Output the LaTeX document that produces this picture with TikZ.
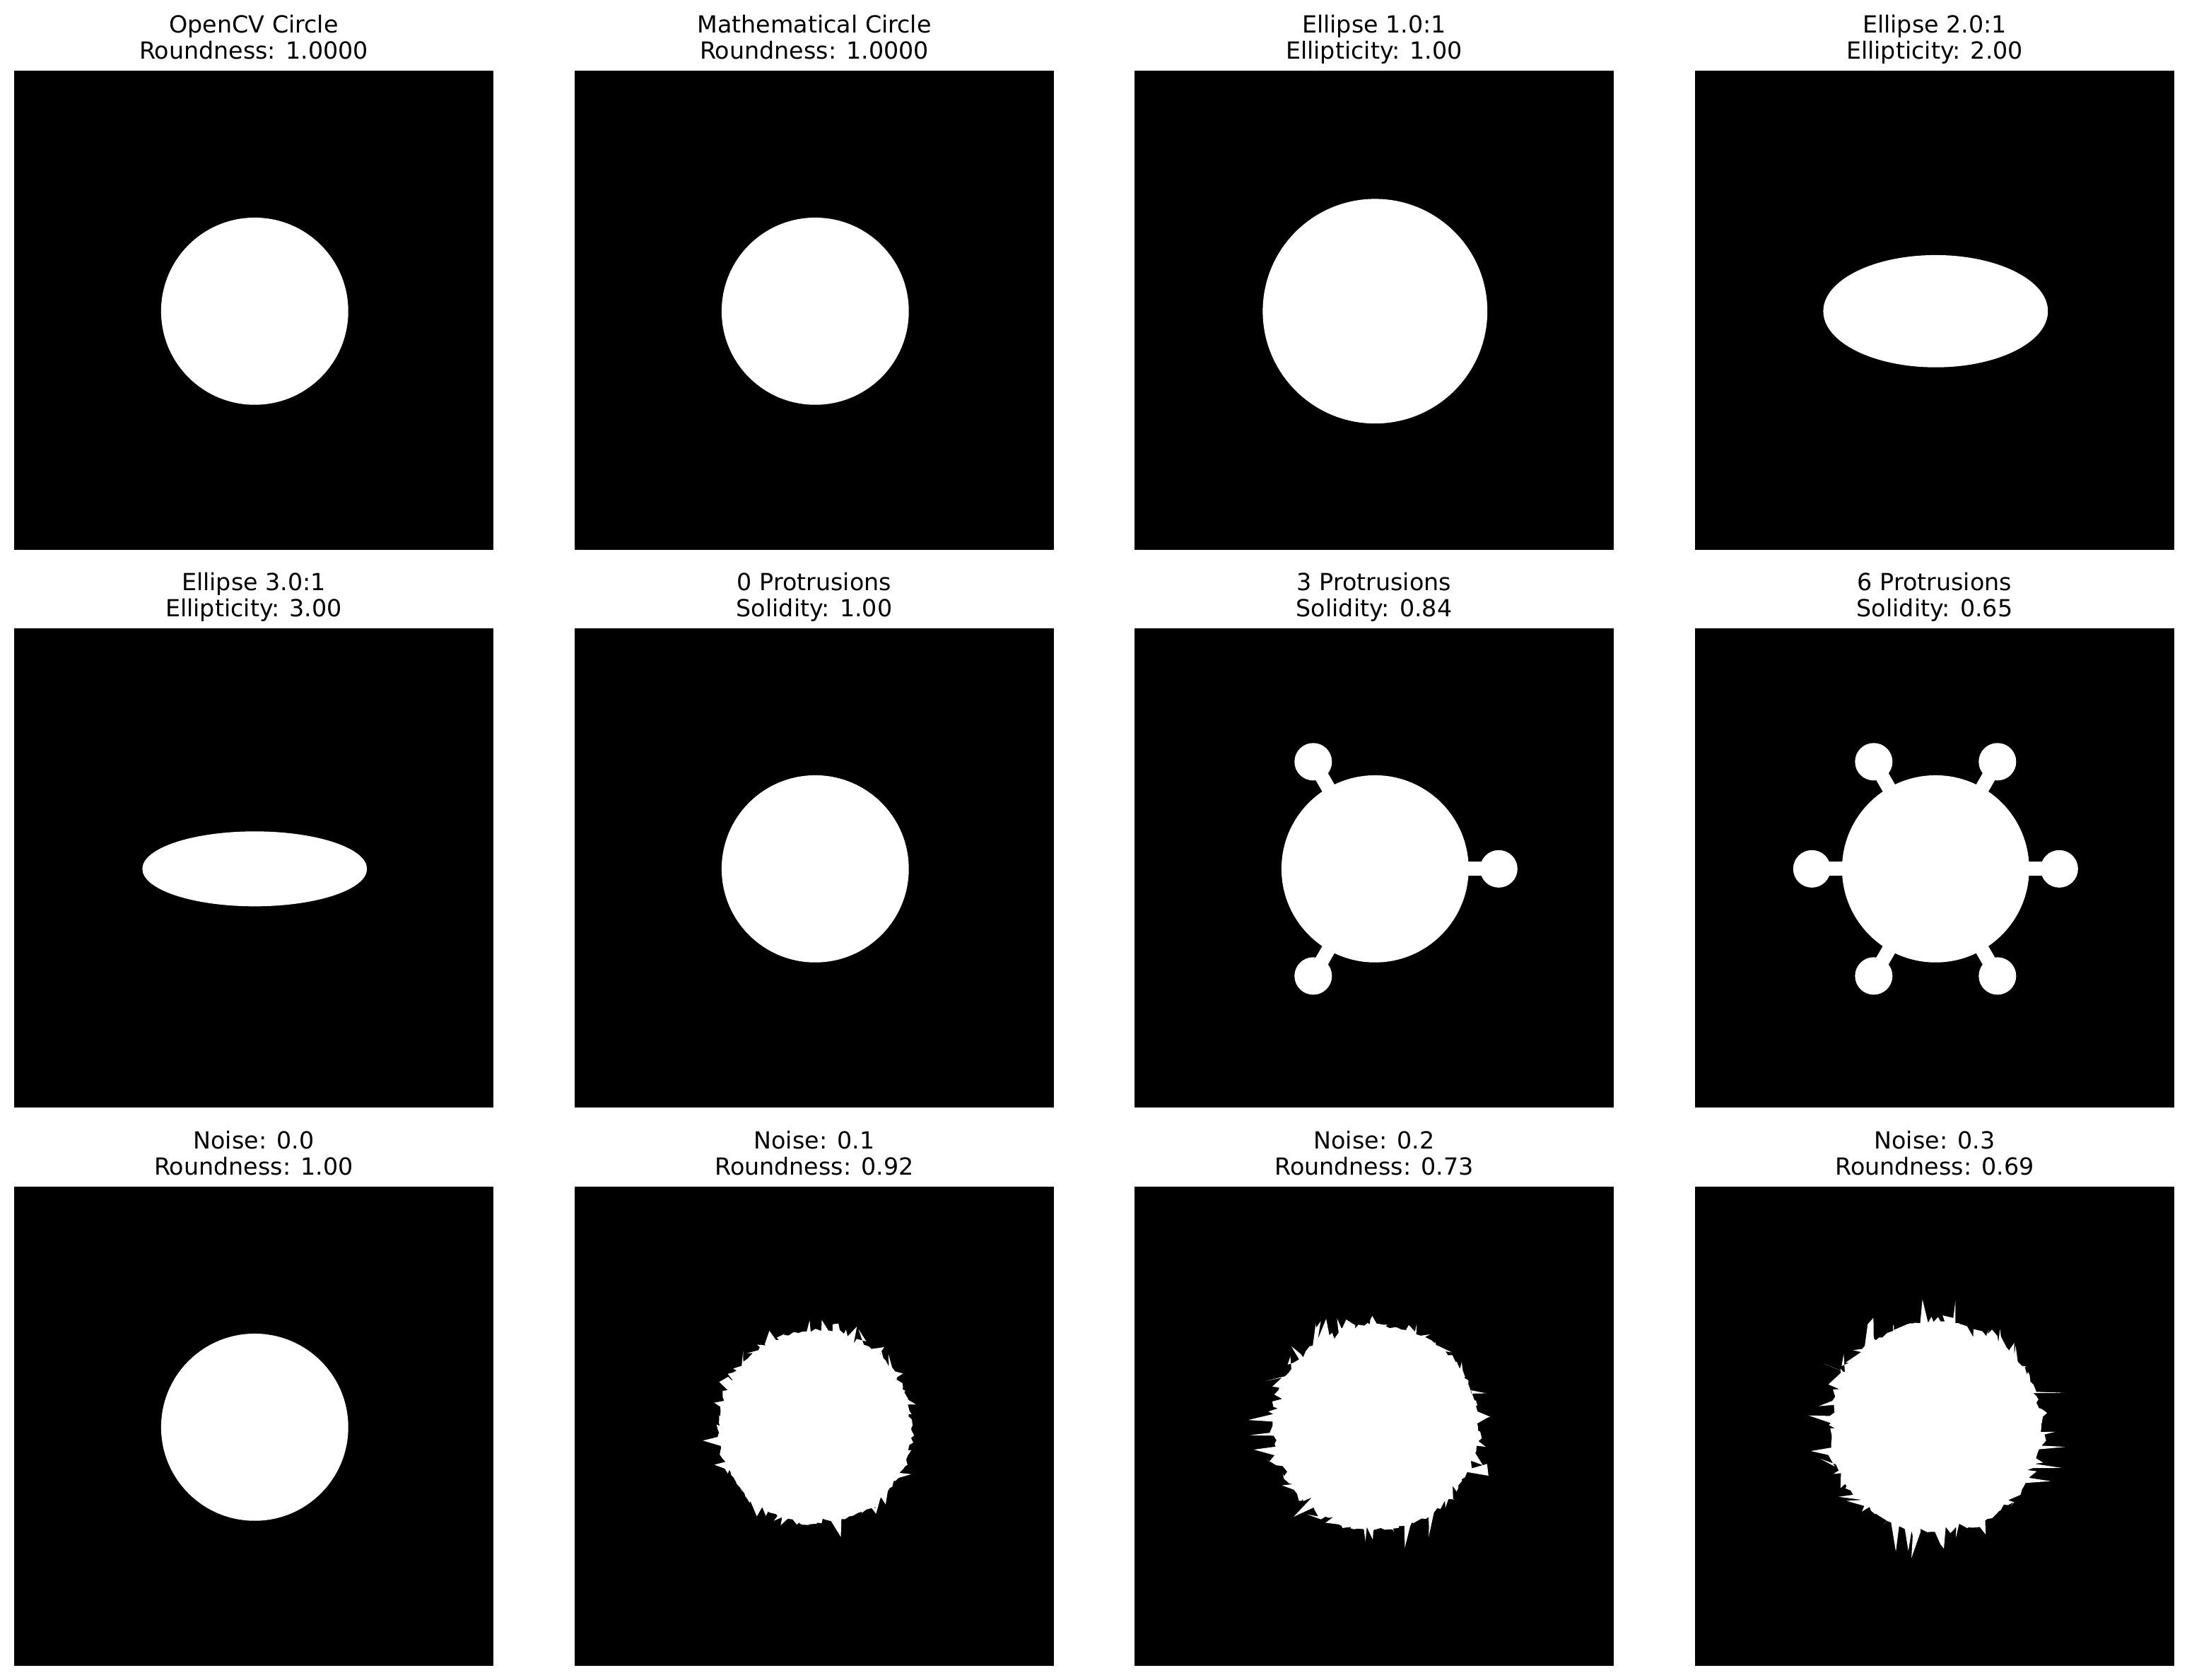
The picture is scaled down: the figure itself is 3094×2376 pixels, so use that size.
\documentclass[tikz,border=0pt]{standalone}
\usepackage{fontspec}
\setmainfont{DejaVu Sans}
\tikzset{
  ttl/.style={anchor=base, inner sep=0pt, font=\fontsize{12}{14.4}\selectfont},
  pnl/.style={fill=black},
  blob/.style={fill=white},
  stem/.style={draw=white, line width=7.2pt, line cap=butt},
}
\newcommand\mypanel[5]{%
  \fill[pnl] (#2,#3) rectangle ++(678,678);
  \node[ttl] (#1a) at ({#2+339},{#3-54}) {#4};
  \node[ttl] (#1b) at ({#2+339},{#3-17}) {#5};
}
\newcommand\noisyblob[5]{%
  \pgfmathsetseed{#5}%
  \begin{scope}[shift={(#1,#2)}]
    \fill[blob] (0:{132.4*(1+#3)}) \foreach \i in {1,...,199}{
      -- ({\i*1.8+3.2*(rnd-0.5)}:{132.4*(1+#3+#4*(pow(rnd,8)-0.3*pow(rnd,12))+0.025*(rnd-0.5))})
    } -- cycle;
  \end{scope}
}
\begin{document}
\begin{tikzpicture}[x=0.36pt,y=-0.36pt]
\fill[white] (0,0) rectangle (3094,2376);
\useasboundingbox (0,0) rectangle (3094,2376);
% Row 1
\mypanel{p1}{20}{100}{OpenCV Circle}{Roundness: 1.0000}
\fill[blob] (360.3,440.3) circle[radius=132.4];
\mypanel{p2}{813}{100}{Mathematical Circle}{Roundness: 1.0000}
\fill[blob] (1153.3,440.3) circle[radius=132.4];
\mypanel{p3}{1605}{100}{Ellipse 1.0:1}{Ellipticity: 1.00}
\fill[blob] (1945.3,440.3) circle[radius=158.9];
\mypanel{p4}{2398}{100}{Ellipse 2.0:1}{Ellipticity: 2.00}
\fill[blob] (2738.3,440.3) ellipse[x radius=158.9, y radius=79.4];
% Row 2
\mypanel{p5}{20}{889}{Ellipse 3.0:1}{Ellipticity: 3.00}
\fill[blob] (360.3,1229.3) ellipse[x radius=158.9, y radius=53];
\mypanel{p6}{813}{889}{0 Protrusions}{Solidity: 1.00}
\fill[blob] (1153.3,1229.3) circle[radius=132.4];
\mypanel{p7}{1605}{889}{3 Protrusions}{Solidity: 0.84}
\begin{scope}[shift={(1945.3,1229.3)}]
  \fill[blob] (0,0) circle[radius=132.4];
  \foreach \a in {0,120,240}{
    \draw[stem] (\a:120) -- (\a:160);
    \fill[blob] (\a:175) circle[radius=26.5];
  }
\end{scope}
\mypanel{p8}{2398}{889}{6 Protrusions}{Solidity: 0.65}
\begin{scope}[shift={(2738.3,1229.3)}]
  \fill[blob] (0,0) circle[radius=132.4];
  \foreach \a in {0,60,...,300}{
    \draw[stem] (\a:120) -- (\a:160);
    \fill[blob] (\a:175) circle[radius=26.5];
  }
\end{scope}
% Row 3
\mypanel{p9}{20}{1679}{Noise: 0.0}{Roundness: 1.00}
\fill[blob] (360.3,2019.3) circle[radius=132.4];
\mypanel{p10}{813}{1679}{Noise: 0.1}{Roundness: 0.92}
\noisyblob{1153.3}{2019.3}{0.03}{0.2}{11}
\mypanel{p11}{1605}{1679}{Noise: 0.2}{Roundness: 0.73}
\noisyblob{1945.3}{2019.3}{0.1}{0.3}{23}
\mypanel{p12}{2398}{1679}{Noise: 0.3}{Roundness: 0.69}
\noisyblob{2738.3}{2019.3}{0.13}{0.38}{37}
\end{tikzpicture}
\end{document}
